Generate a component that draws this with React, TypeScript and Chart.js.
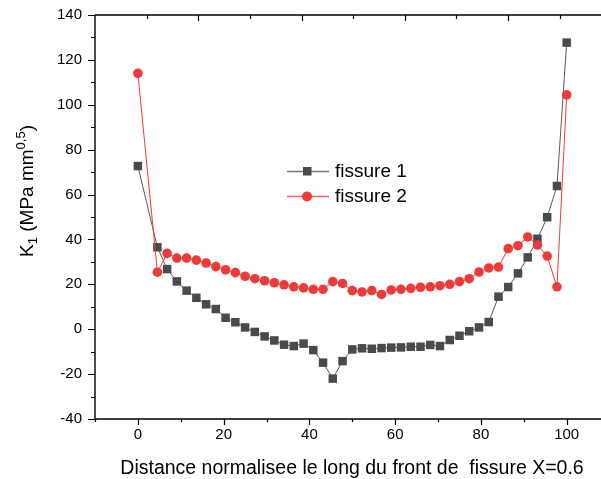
import React, { useEffect, useRef } from "react";
import { Chart, registerables } from "chart.js";

Chart.register(...registerables);

// Normalised position along the crack front
const positions = [
  0, 4.55, 6.82, 9.09, 11.36, 13.64, 15.91, 18.18, 20.45, 22.73, 25.0, 27.27,
  29.55, 31.82, 34.09, 36.36, 38.64, 40.91, 43.18, 45.45, 47.73, 50.0, 52.27,
  54.55, 56.82, 59.09, 61.36, 63.64, 65.91, 68.18, 70.45, 72.73, 75.0, 77.27,
  79.55, 81.82, 84.09, 86.36, 88.64, 90.91, 93.18, 95.45, 97.73, 100,
];

const fissure1 = [
  72.7, 36.5, 26.8, 21.3, 17.2, 14.0, 11.1, 9.0, 5.1, 3.1, 0.8, -1.2, -3.2,
  -5.0, -6.9, -7.5, -6.4, -9.3, -14.9, -22.0, -14.2, -9.0, -8.5, -8.7, -8.4,
  -8.2, -8.1, -7.8, -7.8, -7.0, -7.5, -4.8, -2.9, -0.9, 0.8, 3.2, 14.5, 18.8,
  24.9, 32.0, 40.3, 49.9, 63.8, 127.7,
];

const fissure2 = [
  114.0, 25.4, 33.8, 31.7, 31.7, 30.8, 29.5, 27.9, 26.5, 25.2, 23.6, 22.5,
  21.6, 20.7, 19.8, 18.9, 18.4, 17.8, 17.8, 21.2, 20.4, 17.2, 16.6, 17.2, 15.5,
  17.5, 17.8, 18.2, 18.7, 18.9, 19.4, 20.0, 21.2, 22.5, 25.5, 27.3, 27.7, 35.9,
  37.2, 41.1, 37.5, 32.6, 18.9, 104.4,
];

const seriesNames = ["fissure 1", "fissure 2"];
const xTickLabels = [0, 20, 40, 60, 80, 100];
const yTickLabels = [-40, -20, 0, 20, 40, 60, 80, 100, 120, 140];
const xTitle = "Distance normalisee le long du front de  fissure X=0.6";

const FONT = "'Liberation Sans', Arial, Helvetica, sans-serif";
const GRAY = "#4a4a4a";
const GRAY_LINE = "#5a5a5a";
const RED = "#f03a3a";

const decorPlugin = {
  id: "decor",
  afterDraw(chart: any) {
    const { ctx, chartArea, scales } = chart;
    const { left, right, top, bottom } = chartArea;
    const xs = scales.x;
    const ys = scales.y;
    ctx.save();
    ctx.strokeStyle = "#000";
    ctx.lineWidth = 1.4;
    ctx.beginPath();
    ctx.moveTo(left, top);
    ctx.lineTo(right, top);
    ctx.moveTo(left, top);
    ctx.lineTo(left, bottom);
    ctx.lineTo(right, bottom);
    ctx.stroke();

    ctx.lineWidth = 1.2;
    ctx.beginPath();
    // bottom ticks (outward)
    for (let v = -10; v <= 108; v += 10) {
      const px = Math.round(xs.getPixelForValue(v)) + 0.5;
      const major = v % 20 === 0;
      ctx.moveTo(px, bottom);
      ctx.lineTo(px, bottom + (major ? 6 : 3));
    }
    // left ticks (outward)
    for (let v = -40; v <= 140; v += 10) {
      const py = Math.round(ys.getPixelForValue(v)) + 0.5;
      const major = v % 20 === 0;
      ctx.moveTo(left, py);
      ctx.lineTo(left - (major ? 7 : 4), py);
    }
    // top axis (separate layer scale 0..98, inward ticks)
    const topMax = 98;
    for (let v = 10; v < topMax; v += 10) {
      const px = Math.round(left + (v / topMax) * (right - left)) + 0.5;
      const major = v % 20 === 0;
      ctx.moveTo(px, top);
      ctx.lineTo(px, top + (major ? 6 : 4));
    }
    ctx.stroke();

    // x title
    ctx.fillStyle = "#000";
    ctx.font = `19.5px ${FONT}`;
    ctx.textAlign = "center";
    ctx.textBaseline = "alphabetic";
    ctx.fillText(xTitle, 352, 474);

    // y title with sub/superscript
    const big = `19px ${FONT}`;
    const small = `13px ${FONT}`;
    const parts: [string, string, number][] = [
      ["K", big, 0],
      ["1", small, 4],
      [" (MPa mm", big, 0],
      ["0,5", small, -8],
      [")", big, 0],
    ];
    let total = 0;
    for (const [t, f] of parts) {
      ctx.font = f;
      total += ctx.measureText(t).width;
    }
    ctx.translate(33, 191);
    ctx.rotate(-Math.PI / 2);
    ctx.textAlign = "left";
    let cx = -total / 2;
    for (const [t, f, dy] of parts) {
      ctx.font = f;
      ctx.fillText(t, cx, dy);
      cx += ctx.measureText(t).width;
    }
    ctx.restore();

    // legend
    ctx.save();
    const rows = [171, 196];
    chart.data.datasets.forEach((ds: any, i: number) => {
      const yRow = rows[i];
      ctx.strokeStyle = i === 0 ? "#777" : "#f36a6a";
      ctx.lineWidth = 1.5;
      ctx.beginPath();
      ctx.moveTo(287, yRow + 0.5);
      ctx.lineTo(329, yRow + 0.5);
      ctx.stroke();
      ctx.fillStyle = ds.pointBackgroundColor;
      if (ds.pointStyle === "rect") {
        ctx.fillRect(303, yRow - 4, 8.5, 8.5);
      } else {
        ctx.beginPath();
        ctx.arc(307, yRow + 0.5, 5, 0, Math.PI * 2);
        ctx.fill();
      }
      ctx.fillStyle = "#000";
      ctx.font = `19px ${FONT}`;
      ctx.textAlign = "left";
      ctx.textBaseline = "middle";
      ctx.fillText(ds.label, 335, yRow + 1);
    });
    ctx.restore();
  },
};

export default function App() {
  const ref = useRef<HTMLCanvasElement | null>(null);

  useEffect(() => {
    if (!ref.current) return;
    const chart = new Chart(ref.current, {
      type: "scatter",
      data: {
        datasets: [
          {
            label: seriesNames[0],
            data: positions.map((x, i) => ({ x, y: fissure1[i] })),
            showLine: true,
            borderColor: GRAY_LINE,
            borderWidth: 1,
            pointStyle: "rect",
            pointRadius: 6,
            pointBackgroundColor: GRAY,
            pointBorderWidth: 0,
            order: 2,
          },
          {
            label: seriesNames[1],
            data: positions.map((x, i) => ({ x, y: fissure2[i] })),
            showLine: true,
            borderColor: RED,
            borderWidth: 1,
            pointStyle: "circle",
            pointRadius: 4.8,
            pointBackgroundColor: RED,
            pointBorderWidth: 0,
            order: 1,
          },
        ],
      } as any,
      options: {
        responsive: false,
        animation: false,
        layout: { autoPadding: false, padding: { top: 15, right: 0, left: 0, bottom: 0 } },
        plugins: {
          legend: { display: false },
          tooltip: { enabled: false },
        },
        scales: {
          x: {
            type: "linear",
            min: -10,
            max: 108,
            grid: { display: false, drawTicks: false },
            border: { display: false },
            afterBuildTicks: (s: any) => {
              s.ticks = xTickLabels.map((v) => ({ value: v }));
            },
            afterFit: (s: any) => {
              s.height = 60;
              s.paddingLeft = 0;
              s.paddingRight = 0;
            },
            ticks: {
              padding: 7,
              color: "#000",
              font: { family: FONT, size: 15 },
              maxRotation: 0,
            },
          },
          y: {
            type: "linear",
            min: -40,
            max: 140,
            grid: { display: false, drawTicks: false },
            border: { display: false },
            afterBuildTicks: (s: any) => {
              s.ticks = yTickLabels.map((v) => ({ value: v }));
            },
            afterFit: (s: any) => {
              s.width = 95;
              s.paddingTop = 0;
              s.paddingBottom = 0;
            },
            ticks: {
              padding: 13,
              color: "#000",
              font: { family: FONT, size: 15 },
            },
          },
        },
      } as any,
      plugins: [decorPlugin],
    });
    return () => chart.destroy();
  }, []);

  return (
    <div style={{ position: "fixed", left: 0, top: 0, width: 601, height: 479, background: "#fff" }}>
      <canvas ref={ref} width={601} height={479} style={{ display: "block" }} />
    </div>
  );
}
